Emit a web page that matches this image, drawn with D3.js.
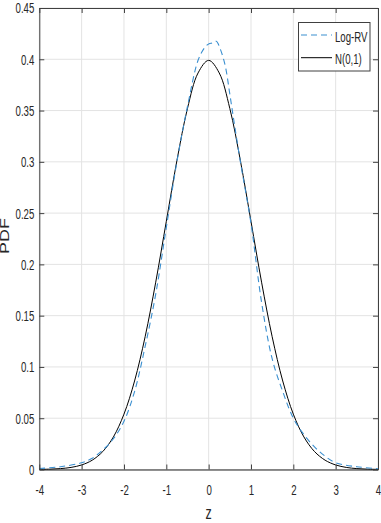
<!DOCTYPE html>
<html>
<head>
<meta charset="utf-8">
<script src="https://d3js.org/d3.v7.min.js"></script>
<style>
  body { margin: 0; background: #fff; }
  text { font-family: "Liberation Sans", Arial, sans-serif; fill: #262626; }
</style>
</head>
<body>
<svg id="chart" width="381" height="523"></svg>
<script>
// grid of z values for the normal curve and its density
var zNorm = [-4, -3.75, -3.5, -3.25, -3, -2.75, -2.5, -2.25, -2, -1.75, -1.5, -1.25, -1, -0.75, -0.5, -0.25,
             0, 0.25, 0.5, 0.75, 1, 1.25, 1.5, 1.75, 2, 2.25, 2.5, 2.75, 3, 3.25, 3.5, 3.75, 4];
var pdfNorm = [0.00013, 0.00035, 0.00087, 0.00203, 0.00443, 0.00909, 0.01753, 0.03174, 0.05399, 0.08628,
               0.12952, 0.18265, 0.24197, 0.30114, 0.35207, 0.38667, 0.39894, 0.38667, 0.35207, 0.30114,
               0.24197, 0.18265, 0.12952, 0.08628, 0.05399, 0.03174, 0.01753, 0.00909, 0.00443, 0.00203,
               0.00087, 0.00035, 0.00013];

// Log-RV density
var zLog = [-4, -3.5, -3, -2.75, -2.5, -2.25, -2, -1.75, -1.5, -1.25, -1, -0.75, -0.5, -0.25, -0.1,
            0, 0.1, 0.18, 0.27, 0.39, 0.5, 0.6, 0.75, 1, 1.25, 1.5, 1.75, 2, 2.25, 2.5, 2.75, 3, 3.5, 4];
var pdfLog = [0.001, 0.0027, 0.0066, 0.011, 0.019, 0.030, 0.047, 0.076, 0.120, 0.171, 0.236, 0.300, 0.354,
              0.399, 0.411, 0.415, 0.416, 0.4176, 0.4105, 0.394, 0.366, 0.339, 0.300, 0.240, 0.163, 0.108,
              0.076, 0.050, 0.034, 0.022, 0.013, 0.0066, 0.0027, 0.0008];

var xTicks = [-4, -3, -2, -1, 0, 1, 2, 3, 4];
var yTicks = [0, 0.05, 0.1, 0.15, 0.2, 0.25, 0.3, 0.35, 0.4, 0.45];
var seriesNames = ["Log-RV", "N(0,1)"];

var svg = d3.select("#chart");
var pLeft = 39.3, pRight = 378, pTop = 8, pBottom = 469.5;
var squeeze = 0.69; // text in the reference is narrow

var x = d3.scaleLinear().domain([-4, 4]).range([pLeft, pRight]);
var y = d3.scaleLinear().domain([0, 0.45]).range([pBottom, pTop]);

// grid
svg.append("g").selectAll("line").data(xTicks).enter().append("line")
  .attr("x1", d => x(d)).attr("x2", d => x(d)).attr("y1", pTop).attr("y2", pBottom)
  .attr("stroke", "#e3e3e3").attr("stroke-width", 1);
svg.append("g").selectAll("line").data(yTicks).enter().append("line")
  .attr("x1", pLeft).attr("x2", pRight).attr("y1", d => y(d)).attr("y2", d => y(d))
  .attr("stroke", "#e3e3e3").attr("stroke-width", 1);

// curves
var line = d3.line().curve(d3.curveCatmullRom).x(d => x(d[0])).y(d => y(d[1]));
svg.append("path").datum(d3.zip(zNorm, pdfNorm))
  .attr("d", line).attr("fill", "none").attr("stroke", "#000").attr("stroke-width", 1);
svg.append("path").datum(d3.zip(zLog, pdfLog))
  .attr("d", line).attr("fill", "none").attr("stroke", "#3a8fd0").attr("stroke-width", 1.1)
  .attr("stroke-dasharray", "6,4");

// axes
var axB = svg.append("g").attr("transform", "translate(0," + pBottom + ")")
  .call(d3.axisBottom(x).tickValues(xTicks).tickSizeInner(-5).tickSizeOuter(0).tickFormat(d => String(d)));
var axL = svg.append("g").attr("transform", "translate(" + pLeft + ",0)")
  .call(d3.axisLeft(y).tickValues(yTicks).tickSizeInner(-5).tickSizeOuter(0).tickFormat(d => String(d)));
var axT = svg.append("g").attr("transform", "translate(0," + pTop + ")")
  .call(d3.axisTop(x).tickValues(xTicks).tickSizeInner(-5).tickSizeOuter(0).tickFormat(""));
var axR = svg.append("g").attr("transform", "translate(" + pRight + ",0)")
  .call(d3.axisRight(y).tickValues(yTicks).tickSizeInner(-5).tickSizeOuter(0).tickFormat(""));

[axB, axL, axT, axR].forEach(function(a) {
  a.select(".domain").attr("stroke", "#404040").attr("stroke-width", 1);
  a.selectAll(".tick line").attr("stroke", "#404040");
});
axB.select(".domain").attr("stroke", "#222");

axB.selectAll(".tick text")
  .attr("y", 26).attr("dy", 0)
  .attr("transform", "scale(" + squeeze + ",1)")
  .style("font-size", "14px").attr("fill", "#262626");
axL.selectAll(".tick text")
  .attr("x", -5 / squeeze).attr("dy", "0.35em")
  .attr("transform", "scale(" + squeeze + ",1)")
  .style("font-size", "14px").attr("fill", "#262626");

// axis labels
svg.append("text")
  .attr("transform", "translate(" + x(0) + ",519) scale(" + squeeze + ",1)")
  .attr("text-anchor", "middle").style("font-size", "18px").text("z");
svg.append("text")
  .attr("transform", "translate(8.5,236) scale(" + squeeze + ",1) rotate(-90)")
  .attr("text-anchor", "middle").style("font-size", "18px").text("PDF");

// legend
var lg = svg.append("g");
lg.append("rect").attr("x", 298.5).attr("y", 22.5).attr("width", 71.5).attr("height", 48.5)
  .attr("fill", "#fff").attr("stroke", "#404040").attr("stroke-width", 1);
lg.append("line").attr("x1", 301).attr("x2", 332).attr("y1", 35).attr("y2", 35)
  .attr("stroke", "#3a8fd0").attr("stroke-width", 1.1).attr("stroke-dasharray", "6,4");
lg.append("line").attr("x1", 301).attr("x2", 332).attr("y1", 57.7).attr("y2", 57.7)
  .attr("stroke", "#000").attr("stroke-width", 1);
lg.append("text").attr("transform", "translate(335,41.5) scale(" + squeeze + ",1)")
  .style("font-size", "14px").text(seriesNames[0]);
lg.append("text").attr("transform", "translate(335,63.5) scale(" + squeeze + ",1)")
  .style("font-size", "14px").text(seriesNames[1]);
</script>
</body>
</html>
